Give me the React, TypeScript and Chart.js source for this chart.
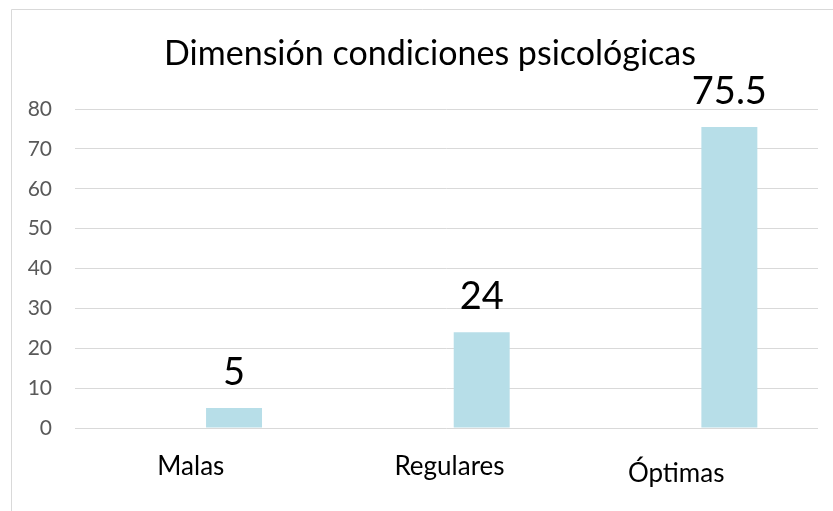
import React, { useEffect, useRef } from "react";
import { Chart, registerables } from "chart.js";

Chart.register(...registerables);

const categories = ["Malas", "Regulares", "Óptimas"];
const emptySeries: (number | null)[] = [null, null, null];
const values = [5, 24, 75.5];
const yTicks = [0, 10, 20, 30, 40, 50, 60, 70, 80];
const chartTitle = "Dimensión condiciones psicológicas";

const FONT = "Lato, 'Open Sans', sans-serif";

export default function App() {
  const ref = useRef<HTMLCanvasElement | null>(null);

  useEffect(() => {
    if (!ref.current) return;
    // small per-label nudges to mimic the original layout
    const labelDx = [-8, 3, -18];
    const labelDy = [0, 0, 7];
    const framePlugin = {
      id: "frame",
      beforeDraw(chart: any) {
        const ctx = chart.ctx;
        ctx.save();
        ctx.fillStyle = "#ffffff";
        ctx.fillRect(0, 0, chart.width, chart.height);
        ctx.strokeStyle = "#d9d9d9";
        ctx.lineWidth = 1;
        ctx.beginPath();
        ctx.moveTo(11.5, chart.height);
        ctx.lineTo(11.5, 9.5);
        ctx.lineTo(chart.width, 9.5);
        ctx.stroke();
        ctx.restore();
      },
      afterDraw(chart: any) {
        const ctx = chart.ctx;
        ctx.save();
        ctx.fillStyle = "#000000";
        ctx.font = `34px ${FONT}`;
        ctx.textAlign = "center";
        ctx.textBaseline = "alphabetic";
        ctx.fillText(chartTitle, 430, 65);
        // category labels
        const xs = chart.scales.x;
        ctx.font = `26px ${FONT}`;
        categories.forEach((c, i) => {
          const x = xs.getPixelForValue(i) + labelDx[i];
          ctx.fillText(c, x, xs.top + 47 + labelDy[i]);
        });
        ctx.restore();
      },
    };
    const labelPlugin = {
      id: "valueLabels",
      afterDatasetsDraw(chart: any) {
        const ctx = chart.ctx;
        const meta = chart.getDatasetMeta(1);
        ctx.save();
        ctx.fillStyle = "#000000";
        ctx.font = `38px ${FONT}`;
        ctx.textAlign = "center";
        ctx.textBaseline = "alphabetic";
        meta.data.forEach((el: any, i: number) => {
          ctx.fillText(String(values[i]), el.x, el.y - 23);
        });
        ctx.restore();
      },
    };
    const chart = new Chart(ref.current, {
      type: "bar",
      data: {
        labels: categories,
        datasets: [
          {
            label: "a",
            data: emptySeries,
            backgroundColor: "rgba(0,0,0,0)",
            categoryPercentage: 0.5685,
            barPercentage: 0.795,
          },
          {
            label: "b",
            data: values,
            backgroundColor: "#B7DEE8",
            categoryPercentage: 0.5685,
            barPercentage: 0.795,
          },
        ],
      },
      options: {
        responsive: false,
        animation: false,
        layout: { padding: { left: 10, right: 15, top: 109, bottom: 0 } },
        plugins: {
          legend: { display: false },
          title: { display: false },
          tooltip: { enabled: false },
        },
        scales: {
          x: {
            grid: { display: false, drawTicks: false },
            border: { display: false },
            ticks: { display: false },
            afterFit: (s: any) => {
              s.height = 83;
            },
          },
          y: {
            min: 0,
            max: 80,
            afterBuildTicks: (s: any) => {
              s.ticks = yTicks.map((v) => ({ value: v }));
            },
            grid: { color: "#d9d9d9", lineWidth: 1, drawTicks: false },
            border: { display: false },
            ticks: {
              color: "#595959",
              font: { family: FONT, size: 21 },
              padding: 23,
            },
            afterFit: (s: any) => {
              s.width = 65;
            },
          },
        },
      },
      plugins: [framePlugin, labelPlugin],
    });
    return () => chart.destroy();
  }, []);

  return (
    <div style={{ position: "fixed", left: 0, top: 0, width: 833, height: 511 }}>
      <canvas ref={ref} width={833} height={511} />
    </div>
  );
}
